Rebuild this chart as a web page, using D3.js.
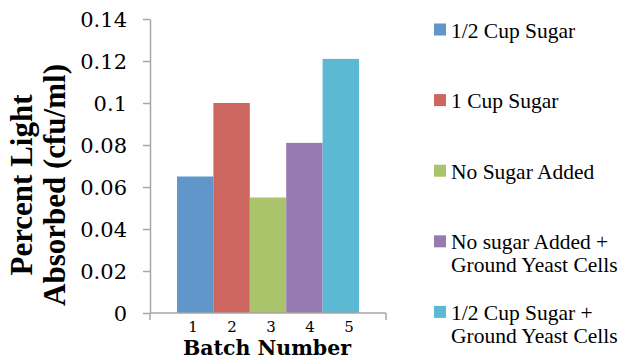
<!DOCTYPE html>
<html>
<head>
<meta charset="utf-8">
<script src="https://cdn.jsdelivr.net/npm/d3@7"></script>
<style>
  html, body { margin: 0; padding: 0; background: #fff; }
  svg { display: block; }
</style>
</head>
<body>
<svg id="chart" width="622" height="360"></svg>
<script>
// Light absorbed per batch
const batches = ["1", "2", "3", "4", "5"];
const absorbed = [0.065, 0.100, 0.055, 0.081, 0.121];
const seriesNames = [
  ["1/2 Cup Sugar"],
  ["1 Cup Sugar"],
  ["No Sugar Added"],
  ["No sugar Added +", "Ground Yeast Cells"],
  ["1/2 Cup Sugar +", "Ground Yeast Cells"]
];
const colors = ["#6096C9", "#CC665E", "#AAC46C", "#957BB1", "#5CB9D3"];
const yTicks = [0, 0.02, 0.04, 0.06, 0.08, 0.1, 0.12, 0.14];

const svg = d3.select("#chart");
const axisColor = "#A6A6A6";

// plot frame
const plot = { left: 150, right: 386, top: 19, bottom: 313 };

const y = d3.scaleLinear().domain([0, 0.14]).range([plot.bottom, plot.top]);

// single category with five adjacent bars (gap 150% of bar width)
const barGap = 27;
const x = d3.scaleBand()
  .domain(batches)
  .range([plot.left + barGap, plot.right - barGap])
  .padding(0);

// batch labels sit on a slightly wider spacing than the bars
const xLabel = d3.scalePoint()
  .domain(batches)
  .range([193, 349]);

// bars
svg.append("g")
  .selectAll("rect")
  .data(absorbed)
  .join("rect")
  .attr("x", (d, i) => x(batches[i]))
  .attr("y", d => y(d))
  .attr("width", x.bandwidth())
  .attr("height", d => y(0) - y(d))
  .attr("fill", (d, i) => colors[i]);

// y axis
const yAxis = svg.append("g")
  .attr("transform", `translate(${plot.left},0)`)
  .call(d3.axisLeft(y).tickValues(yTicks).tickSize(7).tickSizeOuter(0)
    .tickFormat(d => d3.format("")(+d.toFixed(2))));
yAxis.select(".domain").attr("stroke", axisColor).attr("stroke-width", 1.5);
yAxis.selectAll(".tick line").attr("stroke", axisColor).attr("stroke-width", 1.5);
yAxis.selectAll(".tick text")
  .attr("x", -23)
  .attr("dy", "0.36em")
  .attr("fill", "#000")
  .style("font-family", "'DejaVu Serif', serif")
  .style("font-size", "21px");

// x axis line with end ticks
const xAxis = svg.append("g");
xAxis.append("line")
  .attr("x1", plot.left).attr("x2", plot.right)
  .attr("y1", y(0)).attr("y2", y(0))
  .attr("stroke", axisColor).attr("stroke-width", 1.5);
xAxis.selectAll("line.end")
  .data([plot.left, plot.right])
  .join("line")
  .attr("class", "end")
  .attr("x1", d => d).attr("x2", d => d)
  .attr("y1", y(0)).attr("y2", y(0) + 7)
  .attr("stroke", axisColor).attr("stroke-width", 1.5);

// batch labels
svg.append("g")
  .selectAll("text")
  .data(batches)
  .join("text")
  .attr("x", d => xLabel(d))
  .attr("y", 332)
  .attr("text-anchor", "middle")
  .style("font-family", "'DejaVu Serif', serif")
  .style("font-size", "15px")
  .text(d => d);

// x title
svg.append("text")
  .attr("x", 267)
  .attr("y", 355)
  .attr("text-anchor", "middle")
  .style("font-family", "'DejaVu Serif', serif")
  .style("font-weight", "bold")
  .style("font-size", "20.5px")
  .text("Batch Number");

// y title (two lines)
const yTitle = svg.append("text")
  .attr("transform", "translate(0,185) rotate(-90)")
  .attr("text-anchor", "middle")
  .style("font-family", "'Liberation Serif', serif")
  .style("font-weight", "bold")
  .style("font-size", "31px");
yTitle.append("tspan").attr("x", 0).attr("y", 32).text("Percent Light");
yTitle.append("tspan").attr("x", 0).attr("y", 65).text("Absorbed (cfu/ml)");

// legend
const legend = svg.append("g")
  .selectAll("g")
  .data(seriesNames)
  .join("g")
  .attr("transform", (d, i) => `translate(434,${23.5 + i * 70.6})`);
legend.append("rect")
  .attr("width", 12).attr("height", 12)
  .attr("fill", (d, i) => colors[i]);
legend.append("text")
  .style("font-family", "'Liberation Serif', serif")
  .style("font-size", "21.5px")
  .selectAll("tspan")
  .data(d => d)
  .join("tspan")
  .attr("x", 17)
  .attr("y", (d, j) => 14 + j * 23)
  .text(d => d);
</script>
</body>
</html>
